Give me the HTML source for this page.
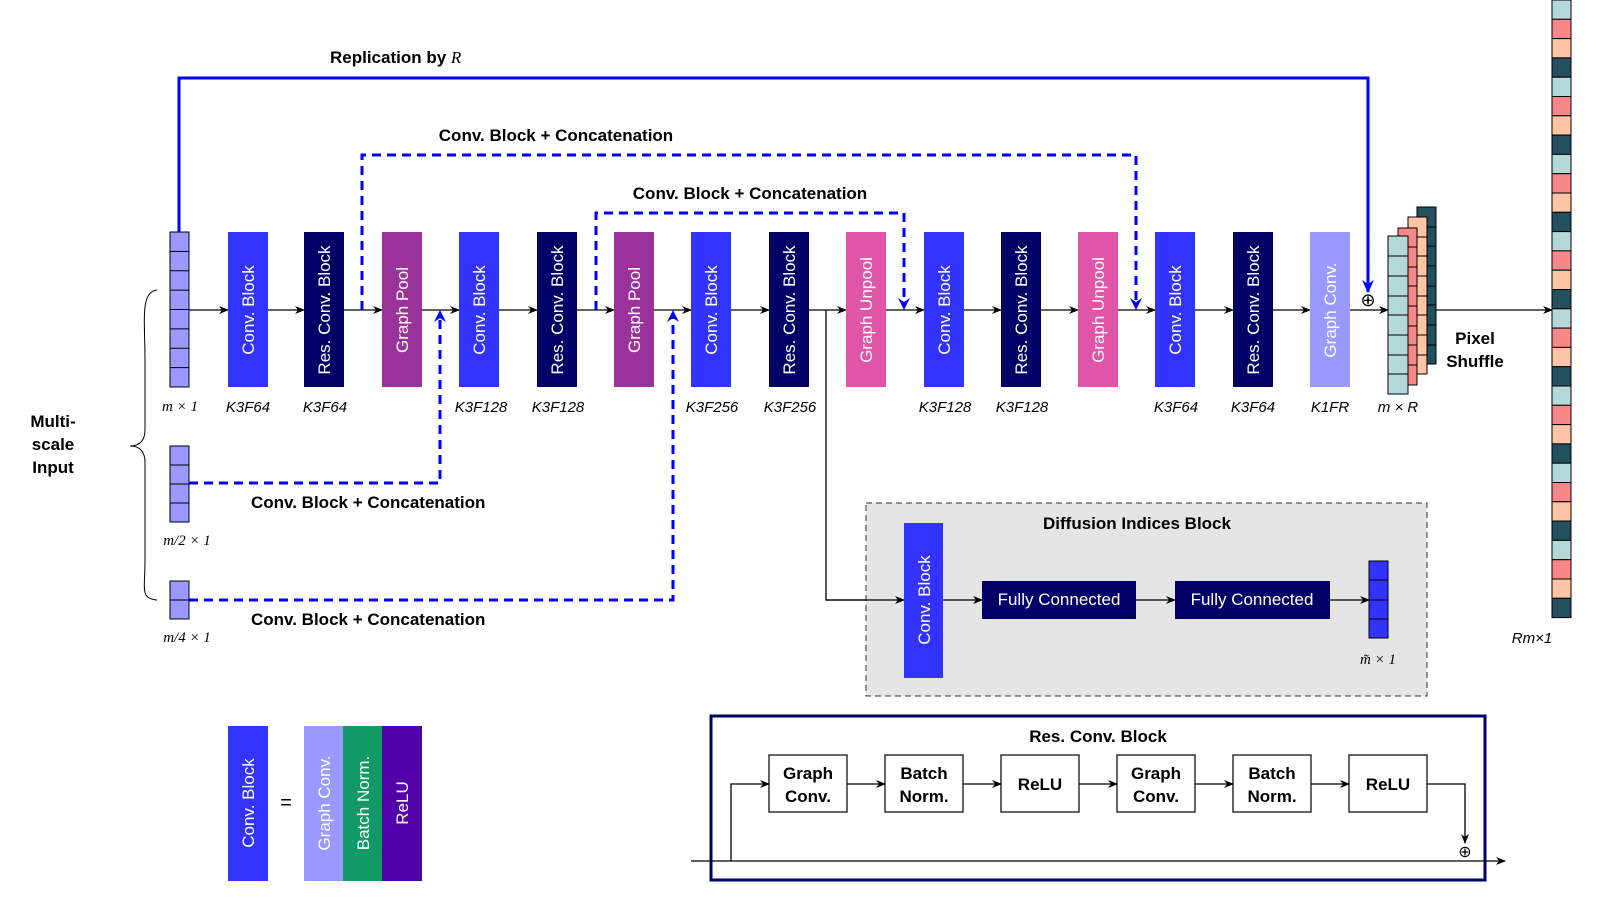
<!DOCTYPE html>
<html><head><meta charset="utf-8"><style>
html,body{margin:0;padding:0;background:#fff;width:1597px;height:898px;overflow:hidden;}
svg{display:block;position:absolute;left:0;top:0;}
text{font-family:"Liberation Sans",sans-serif;}
.bt{fill:#fff;font-size:17px;}
.lb{font-size:15px;font-style:italic;font-family:"Liberation Serif",serif;}
.bold{font-weight:bold;font-size:17px;}
</style></head><body>
<svg width="1597" height="898" viewBox="0 0 1597 898" xmlns="http://www.w3.org/2000/svg">
<defs>
<marker id="a" markerWidth="10" markerHeight="10" refX="9" refY="5" orient="auto" markerUnits="userSpaceOnUse"><path d="M0,1 L10,5 L0,9 L3,5z" fill="#000"/></marker>
<marker id="b" markerWidth="14" markerHeight="14" refX="12" refY="7" orient="auto" markerUnits="userSpaceOnUse"><path d="M0,1 L13,7 L0,13 L4,7z" fill="#00f"/></marker>
</defs>

<g stroke="#000" stroke-width="1.3" fill="none">
<line x1="189" y1="310" x2="228" y2="310" marker-end="url(#a)"/>
<line x1="267" y1="310" x2="304" y2="310" marker-end="url(#a)"/>
<line x1="344" y1="310" x2="382" y2="310" marker-end="url(#a)"/>
<line x1="421" y1="310" x2="459" y2="310" marker-end="url(#a)"/>
<line x1="498" y1="310" x2="537" y2="310" marker-end="url(#a)"/>
<line x1="576" y1="310" x2="614" y2="310" marker-end="url(#a)"/>
<line x1="653" y1="310" x2="691" y2="310" marker-end="url(#a)"/>
<line x1="730" y1="310" x2="769" y2="310" marker-end="url(#a)"/>
<line x1="808" y1="310" x2="846" y2="310" marker-end="url(#a)"/>
<line x1="885" y1="310" x2="924" y2="310" marker-end="url(#a)"/>
<line x1="963" y1="310" x2="1001" y2="310" marker-end="url(#a)"/>
<line x1="1040" y1="310" x2="1078" y2="310" marker-end="url(#a)"/>
<line x1="1117" y1="310" x2="1155" y2="310" marker-end="url(#a)"/>
<line x1="1194" y1="310" x2="1233" y2="310" marker-end="url(#a)"/>
<line x1="1272" y1="310" x2="1310" y2="310" marker-end="url(#a)"/>
<line x1="1349" y1="310" x2="1388" y2="310" marker-end="url(#a)"/>
<line x1="1436" y1="310" x2="1552" y2="310" marker-end="url(#a)"/>
<polyline points="826,310 826,600 904,600" marker-end="url(#a)"/>
<line x1="943" y1="600" x2="982" y2="600" marker-end="url(#a)"/>
<line x1="1136" y1="600" x2="1175" y2="600" marker-end="url(#a)"/>
<line x1="1330" y1="600" x2="1369" y2="600" marker-end="url(#a)"/>
</g>
<text x="1368" y="306" font-size="18" text-anchor="middle" font-family="DejaVu Sans">⊕</text>

<g stroke="#000" stroke-width="1" fill="#9999ff">
<rect x="170" y="232" width="19" height="155"/>
<path d="M170,251.4h19M170,270.8h19M170,290.1h19M170,309.5h19M170,328.9h19M170,348.3h19M170,367.6h19"/>
<rect x="170" y="446" width="19" height="76"/>
<path d="M170,465h19M170,484h19M170,503h19"/>
<rect x="170" y="581" width="19" height="38"/>
<path d="M170,600h19"/>
</g>
<text class="lb" x="180" y="411" text-anchor="middle">m × 1</text>
<text class="lb" x="187" y="545" text-anchor="middle">m/2 × 1</text>
<text class="lb" x="187" y="642" text-anchor="middle">m/4 × 1</text>
<path d="M157,290 C140,292 145,320 145,360 L145,430 C145,440 140,446 130,446 C140,446 145,452 145,462 L145,560 C145,590 140,598 157,600" stroke="#000" fill="none" stroke-width="1"/>
<text class="bold" x="53" y="427" text-anchor="middle">Multi-</text>
<text class="bold" x="53" y="450" text-anchor="middle">scale</text>
<text class="bold" x="53" y="473" text-anchor="middle">Input</text>

<g>
<rect x="228" y="232" width="40" height="155" fill="#3333ff"/>
<rect x="304" y="232" width="40" height="155" fill="#000066"/>
<rect x="382" y="232" width="40" height="155" fill="#993399"/>
<rect x="459" y="232" width="40" height="155" fill="#3333ff"/>
<rect x="537" y="232" width="40" height="155" fill="#000066"/>
<rect x="614" y="232" width="40" height="155" fill="#993399"/>
<rect x="691" y="232" width="40" height="155" fill="#3333ff"/>
<rect x="769" y="232" width="40" height="155" fill="#000066"/>
<rect x="846" y="232" width="40" height="155" fill="#e055a8"/>
<rect x="924" y="232" width="40" height="155" fill="#3333ff"/>
<rect x="1001" y="232" width="40" height="155" fill="#000066"/>
<rect x="1078" y="232" width="40" height="155" fill="#e055a8"/>
<rect x="1155" y="232" width="40" height="155" fill="#3333ff"/>
<rect x="1233" y="232" width="40" height="155" fill="#000066"/>
<rect x="1310" y="232" width="40" height="155" fill="#9999ff"/>
</g>
<g class="bt" text-anchor="middle">
<text transform="translate(254,310) rotate(-90)">Conv. Block</text>
<text transform="translate(330,310) rotate(-90)">Res. Conv. Block</text>
<text transform="translate(408,310) rotate(-90)">Graph Pool</text>
<text transform="translate(485,310) rotate(-90)">Conv. Block</text>
<text transform="translate(563,310) rotate(-90)">Res. Conv. Block</text>
<text transform="translate(640,310) rotate(-90)">Graph Pool</text>
<text transform="translate(717,310) rotate(-90)">Conv. Block</text>
<text transform="translate(795,310) rotate(-90)">Res. Conv. Block</text>
<text transform="translate(872,310) rotate(-90)">Graph Unpool</text>
<text transform="translate(950,310) rotate(-90)">Conv. Block</text>
<text transform="translate(1027,310) rotate(-90)">Res. Conv. Block</text>
<text transform="translate(1104,310) rotate(-90)">Graph Unpool</text>
<text transform="translate(1181,310) rotate(-90)">Conv. Block</text>
<text transform="translate(1259,310) rotate(-90)">Res. Conv. Block</text>
<text transform="translate(1336,310) rotate(-90)">Graph Conv.</text>
</g>
<g class="lb" text-anchor="middle">
<text x="248" y="412">K3F64</text><text x="325" y="412">K3F64</text>
<text x="481" y="412">K3F128</text><text x="558" y="412">K3F128</text>
<text x="712" y="412">K3F256</text><text x="790" y="412">K3F256</text>
<text x="945" y="412">K3F128</text><text x="1022" y="412">K3F128</text>
<text x="1176" y="412">K3F64</text><text x="1253" y="412">K3F64</text>
<text x="1330" y="412">K1FR</text><text x="1398" y="412">m × R</text>
<text x="1532" y="643">Rm×1</text>
</g>

<g stroke="#000" stroke-width="1">
<rect x="1417" y="207" width="19" height="157" fill="#234f5e"/>
<path d="M1417,227h19M1417,246h19M1417,266h19M1417,286h19M1417,305h19M1417,325h19M1417,345h19"/>
<rect x="1408" y="217" width="19" height="157" fill="#fdc5a5"/>
<path d="M1408,237h19M1408,256h19M1408,276h19M1408,296h19M1408,315h19M1408,335h19M1408,355h19"/>
<rect x="1398" y="228" width="19" height="157" fill="#f88888"/>
<path d="M1398,247h19M1398,267h19M1398,286h19M1398,306h19M1398,326h19M1398,345h19M1398,365h19"/>
<rect x="1388" y="236" width="20" height="158" fill="#b5d8d8"/>
<path d="M1388,256h20M1388,276h20M1388,296h20M1388,315h20M1388,335h20M1388,355h20M1388,374h20"/>
</g>
<text class="bold" x="1475" y="344" text-anchor="middle">Pixel</text>
<text class="bold" x="1475" y="367" text-anchor="middle">Shuffle</text>

<g stroke="#000" stroke-width="1">
<rect x="1552" y="0" width="19" height="19.3" fill="#b5d8d8"/><rect x="1552" y="19.3" width="19" height="19.3" fill="#f88888"/><rect x="1552" y="38.6" width="19" height="19.3" fill="#fdc5a5"/><rect x="1552" y="57.9" width="19" height="19.3" fill="#234f5e"/>
<rect x="1552" y="77.2" width="19" height="19.3" fill="#b5d8d8"/><rect x="1552" y="96.5" width="19" height="19.3" fill="#f88888"/><rect x="1552" y="115.8" width="19" height="19.3" fill="#fdc5a5"/><rect x="1552" y="135.1" width="19" height="19.3" fill="#234f5e"/>
<rect x="1552" y="154.4" width="19" height="19.3" fill="#b5d8d8"/><rect x="1552" y="173.7" width="19" height="19.3" fill="#f88888"/><rect x="1552" y="193" width="19" height="19.3" fill="#fdc5a5"/><rect x="1552" y="212.3" width="19" height="19.3" fill="#234f5e"/>
<rect x="1552" y="231.6" width="19" height="19.3" fill="#b5d8d8"/><rect x="1552" y="250.9" width="19" height="19.3" fill="#f88888"/><rect x="1552" y="270.2" width="19" height="19.3" fill="#fdc5a5"/><rect x="1552" y="289.5" width="19" height="19.3" fill="#234f5e"/>
<rect x="1552" y="308.8" width="19" height="19.3" fill="#b5d8d8"/><rect x="1552" y="328.1" width="19" height="19.3" fill="#f88888"/><rect x="1552" y="347.4" width="19" height="19.3" fill="#fdc5a5"/><rect x="1552" y="366.7" width="19" height="19.3" fill="#234f5e"/>
<rect x="1552" y="386" width="19" height="19.3" fill="#b5d8d8"/><rect x="1552" y="405.3" width="19" height="19.3" fill="#f88888"/><rect x="1552" y="424.6" width="19" height="19.3" fill="#fdc5a5"/><rect x="1552" y="443.9" width="19" height="19.3" fill="#234f5e"/>
<rect x="1552" y="463.2" width="19" height="19.3" fill="#b5d8d8"/><rect x="1552" y="482.5" width="19" height="19.3" fill="#f88888"/><rect x="1552" y="501.8" width="19" height="19.3" fill="#fdc5a5"/><rect x="1552" y="521.1" width="19" height="19.3" fill="#234f5e"/>
<rect x="1552" y="540.4" width="19" height="19.3" fill="#b5d8d8"/><rect x="1552" y="559.7" width="19" height="19.3" fill="#f88888"/><rect x="1552" y="579" width="19" height="19.3" fill="#fdc5a5"/><rect x="1552" y="598.3" width="19" height="19.3" fill="#234f5e"/>
</g>

<polyline points="179,232 179,78 1368,78 1368,292" stroke="#00f" stroke-width="3" fill="none" marker-end="url(#b)"/>
<g stroke="#00f" stroke-width="3" fill="none" stroke-dasharray="9,6">
<polyline points="362,310 362,155 1136,155 1136,300"/>
<polyline points="596,310 596,213 904,213 904,300"/>
<polyline points="189,483 440,483 440,318"/>
<polyline points="189,600 673,600 673,318"/>
</g>
<g fill="#00f">
<path d="M1130,298 L1136,310 L1142,298 L1136,302z"/>
<path d="M898,298 L904,310 L910,298 L904,302z"/>
<path d="M434,322 L440,310 L446,322 L440,318z"/>
<path d="M667,322 L673,310 L679,322 L673,318z"/>
</g>
<text class="bold" x="330" y="63">Replication by <tspan font-style="italic" font-weight="normal" font-family="Liberation Serif">R</tspan></text>
<text class="bold" x="556" y="141" text-anchor="middle">Conv. Block + Concatenation</text>
<text class="bold" x="750" y="199" text-anchor="middle">Conv. Block + Concatenation</text>
<text class="bold" x="251" y="508">Conv. Block + Concatenation</text>
<text class="bold" x="251" y="625">Conv. Block + Concatenation</text>

<rect x="866" y="503" width="561" height="193" fill="#e5e5e5" stroke="#333" stroke-width="1" stroke-dasharray="6,4"/>
<text class="bold" x="1137" y="529" text-anchor="middle">Diffusion Indices Block</text>
<rect x="904" y="523" width="39" height="155" fill="#3333ff"/>
<text class="bt" text-anchor="middle" transform="translate(930,600) rotate(-90)">Conv. Block</text>
<polyline points="826,600 904,600" stroke="#000" stroke-width="1.3" marker-end="url(#a)"/>
<line x1="943" y1="600" x2="982" y2="600" stroke="#000" stroke-width="1.3" marker-end="url(#a)"/>
<line x1="1136" y1="600" x2="1175" y2="600" stroke="#000" stroke-width="1.3" marker-end="url(#a)"/>
<line x1="1330" y1="600" x2="1369" y2="600" stroke="#000" stroke-width="1.3" marker-end="url(#a)"/>
<rect x="982" y="581" width="154" height="38" fill="#000066"/>
<rect x="1175" y="581" width="155" height="38" fill="#000066"/>
<text class="bt" x="1059" y="605" text-anchor="middle">Fully Connected</text>
<text class="bt" x="1252" y="605" text-anchor="middle">Fully Connected</text>
<g stroke="#000" fill="#3333ff"><rect x="1369" y="561" width="19" height="77"/><path d="M1369,580h19M1369,600h19M1369,619h19"/></g>
<text class="lb" x="1378" y="664" text-anchor="middle">m̃ × 1</text>

<rect x="228" y="726" width="40" height="155" fill="#3333ff"/>
<rect x="304" y="726" width="40" height="155" fill="#9999ff"/>
<rect x="343" y="726" width="40" height="155" fill="#119966"/>
<rect x="382" y="726" width="40" height="155" fill="#5200aa"/>
<g class="bt" text-anchor="middle">
<text transform="translate(254,803) rotate(-90)">Conv. Block</text>
<text transform="translate(330,803) rotate(-90)">Graph Conv.</text>
<text transform="translate(369,803) rotate(-90)">Batch Norm.</text>
<text transform="translate(408,803) rotate(-90)">ReLU</text>
</g>
<text x="286" y="809" font-size="20" text-anchor="middle">=</text>

<rect x="711" y="716" width="774" height="164" fill="none" stroke="#000066" stroke-width="3"/>
<text class="bold" x="1098" y="742" text-anchor="middle">Res. Conv. Block</text>
<g stroke="#000" stroke-width="1.2" fill="#fff">
<rect x="769" y="755" width="78" height="57"/><rect x="885" y="755" width="78" height="57"/><rect x="1001" y="755" width="78" height="57"/>
<rect x="1117" y="755" width="78" height="57"/><rect x="1233" y="755" width="78" height="57"/><rect x="1349" y="755" width="78" height="57"/>
</g>
<g stroke="#000" stroke-width="1.3" fill="none">
<line x1="691" y1="861" x2="1505" y2="861" marker-end="url(#a)"/>
<polyline points="731,861 731,784 769,784" marker-end="url(#a)"/>
<line x1="847" y1="784" x2="885" y2="784" marker-end="url(#a)"/>
<line x1="963" y1="784" x2="1001" y2="784" marker-end="url(#a)"/>
<line x1="1079" y1="784" x2="1117" y2="784" marker-end="url(#a)"/>
<line x1="1195" y1="784" x2="1233" y2="784" marker-end="url(#a)"/>
<line x1="1311" y1="784" x2="1349" y2="784" marker-end="url(#a)"/>
<polyline points="1427,784 1465,784 1465,843" marker-end="url(#a)"/>
</g>
<text x="1465" y="857" font-size="16" text-anchor="middle" font-family="DejaVu Sans">⊕</text>
<g class="bold" text-anchor="middle">
<text x="808" y="779">Graph</text><text x="808" y="802">Conv.</text>
<text x="924" y="779">Batch</text><text x="924" y="802">Norm.</text>
<text x="1040" y="790">ReLU</text>
<text x="1156" y="779">Graph</text><text x="1156" y="802">Conv.</text>
<text x="1272" y="779">Batch</text><text x="1272" y="802">Norm.</text>
<text x="1388" y="790">ReLU</text>
</g>
</svg>
</body></html>
